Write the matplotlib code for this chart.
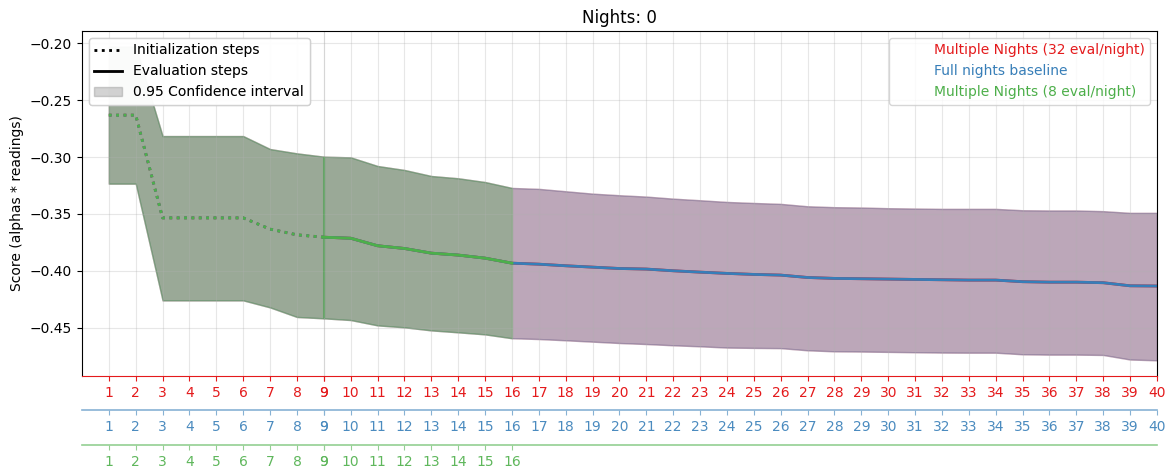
import matplotlib
matplotlib.use("Agg")
import matplotlib.pyplot as plt
from matplotlib.colors import to_rgb, to_hex
from matplotlib.lines import Line2D
from matplotlib.patches import Patch

# score per step (same curve for the three runs)
steps = list(range(1, 41))
mean_score = [
    -0.2632, -0.2632, -0.3535, -0.3535, -0.3535, -0.3535, -0.3634, -0.3684,
    -0.3705, -0.3714, -0.3780, -0.3804, -0.3845, -0.3862, -0.3889, -0.3933,
    -0.3942, -0.3956, -0.3968, -0.3980, -0.3985, -0.4000, -0.4012, -0.4023,
    -0.4032, -0.4038, -0.4059, -0.4067, -0.4070, -0.4073, -0.4076, -0.4079,
    -0.4082, -0.4082, -0.4096, -0.4100, -0.4100, -0.4105, -0.4132, -0.4134,
]
ci_high = [
    -0.2030, -0.2030, -0.2816, -0.2816, -0.2816, -0.2816, -0.2930, -0.2968,
    -0.2997, -0.3003, -0.3079, -0.3114, -0.3167, -0.3187, -0.3220, -0.3272,
    -0.3280, -0.3301, -0.3322, -0.3336, -0.3348, -0.3366, -0.3380, -0.3395,
    -0.3404, -0.3412, -0.3433, -0.3441, -0.3444, -0.3450, -0.3453, -0.3456,
    -0.3456, -0.3456, -0.3468, -0.3470, -0.3470, -0.3476, -0.3491, -0.3491,
]
ci_low = [
    -0.3234, -0.3234, -0.4260, -0.4260, -0.4260, -0.4260, -0.4322, -0.4406,
    -0.4418, -0.4433, -0.4480, -0.4497, -0.4524, -0.4541, -0.4559, -0.4593,
    -0.4600, -0.4611, -0.4623, -0.4635, -0.4644, -0.4655, -0.4664, -0.4675,
    -0.4678, -0.4680, -0.4699, -0.4708, -0.4710, -0.4713, -0.4716, -0.4719,
    -0.4720, -0.4720, -0.4734, -0.4737, -0.4737, -0.4740, -0.4780, -0.4787,
]

series_names = ["Multiple Nights (32 eval/night)", "Full nights baseline",
                "Multiple Nights (8 eval/night)"]
series_colors = ["#e41a1c", "#377eb8", "#4daf4a"]
series_len = [40, 40, 16]
init_steps = 9


def faded(color, a):
    # opaque version of color at alpha a over white
    return to_hex([1 - a * (1 - c) for c in to_rgb(color)])


fig = plt.figure(figsize=(11.71, 4.68), dpi=100)
ax = fig.add_axes([0.070, 0.1966, 0.918, 0.7372])

for name, color, n in zip(series_names, series_colors, series_len):
    x_init = steps[:init_steps]
    x_eval = steps[init_steps - 1:n]
    ax.plot(x_init, mean_score[:init_steps], ls=":", lw=2, color=color)
    ax.plot(x_eval, mean_score[init_steps - 1:n], ls="-", lw=2, color=color)
    ax.fill_between(x_init, ci_low[:init_steps], ci_high[:init_steps],
                    color=color, alpha=0.3)
    ax.fill_between(x_eval, ci_low[init_steps - 1:n], ci_high[init_steps - 1:n],
                    color=color, alpha=0.3)

# boundary between init and eval steps
b = init_steps - 1
ax.vlines(steps[b], ci_low[b], ci_high[b], color=series_colors[2], alpha=0.4, lw=1.5)

ax.set_xlim(0, 40)
ax.set_title("Nights: 0", fontsize=12)
ax.set_ylabel("Score (alphas * readings)")
ax.grid(True, color="#b0b0b0", alpha=0.3)

# one x axis per run, stacked under the plot
axes_x = [ax, ax.twiny(), ax.twiny()]
for i, (a, color, n) in enumerate(zip(axes_x, series_colors, series_len)):
    ticks = steps[:init_steps] + steps[init_steps - 1:n]
    a.set_xlim(0, 40)
    a.set_xticks(ticks)
    a.set_xticklabels([str(t) for t in ticks])
    a.xaxis.set_ticks_position("bottom")
    a.xaxis.set_label_position("bottom")
    a.tick_params(axis="x", colors=color, labelsize=10)
    if i > 0:
        for s in ["top", "left", "right"]:
            a.spines[s].set_visible(False)
        a.spines["bottom"].set_position(("outward", 24.8 * i))
        a.spines["bottom"].set_edgecolor(faded(color, 0.6))
        a.spines["bottom"].set_linewidth(1.2)
        a.tick_params(axis="x", color=faded(color, 0.6), labelcolor=faded(color, 0.9))
    else:
        a.spines["bottom"].set_edgecolor(color)

style_handles = [
    Line2D([], [], color="black", ls=":", lw=2),
    Line2D([], [], color="black", ls="-", lw=2),
    Patch(color="gray", alpha=0.3),
]
leg1 = ax.legend(style_handles,
                 ["Initialization steps", "Evaluation steps", "0.95 Confidence interval"],
                 loc="upper left", fontsize=10)
ax.add_artist(leg1)

run_handles = [Line2D([], [], color=c, alpha=0) for c in series_colors]
leg2 = axes_x[-1].legend(run_handles, series_names, loc="upper right", fontsize=10)
for txt, c in zip(leg2.get_texts(), series_colors):
    txt.set_color(c)

fig.savefig("out.png", dpi=100)
